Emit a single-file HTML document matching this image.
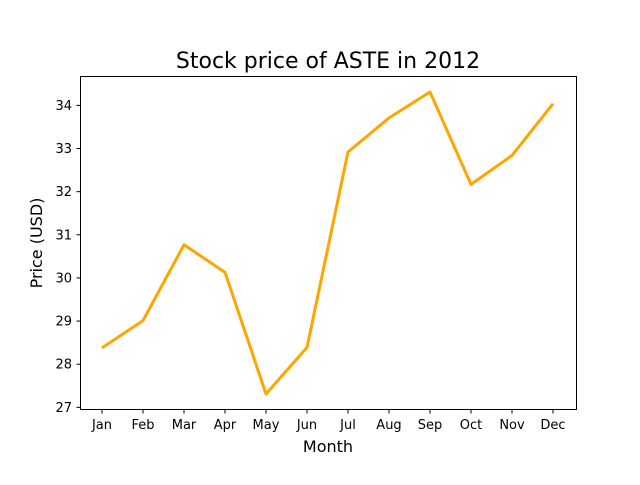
<!DOCTYPE html>
<html><head><meta charset="utf-8"><style>
body{margin:0;background:#fff;}
svg text{font-family:"DejaVu Sans","Liberation Sans",sans-serif;fill:#000;}
</style></head><body>
<svg id="chart" width="640" height="480" xmlns="http://www.w3.org/2000/svg">
<rect width="640" height="480" fill="#fff"/>
<text x="328" y="68" font-size="22" text-anchor="middle">Stock price of ASTE in 2012</text>
<g id="xt"></g><g id="yt"></g>
<polyline id="line" fill="none" stroke="#ffa500" stroke-width="3" stroke-linejoin="round"/>
<rect x="80.5" y="76.5" width="496" height="333" fill="none" stroke="#000" stroke-width="1"/>
<text x="328" y="452" font-size="16" text-anchor="middle">Month</text>
<text x="42" y="243" font-size="16" text-anchor="middle" transform="rotate(-90 42 243)">Price (USD)</text>
</svg>
<script>
const months=["Jan","Feb","Mar","Apr","May","Jun","Jul","Aug","Sep","Oct","Nov","Dec"];
const prices=[28.38,29.01,30.77,30.13,27.31,28.39,32.92,33.71,34.31,32.17,32.84,34.04];
const yTicks=[27,28,29,30,31,32,33,34];
const ns="http://www.w3.org/2000/svg";
const yMin=26.95,yMax=34.67,yTop=76.5,yBot=409.5;
function sx(i){return 102+i*(553-102)/(months.length-1);}
function sy(v){return yBot-(v-yMin)/(yMax-yMin)*(yBot-yTop);}
const xt=document.getElementById('xt'),yt=document.getElementById('yt');
months.forEach((m,i)=>{
 const l=document.createElementNS(ns,'line');
 
 
 l.setAttribute('x1',sx(i));l.setAttribute('x2',sx(i));l.setAttribute('y1',409.5);l.setAttribute('y2',413.5);l.setAttribute('stroke','#000');
 xt.appendChild(l);
 const t=document.createElementNS(ns,'text');
 
 
 t.setAttribute('x',sx(i));t.setAttribute('y',429);t.setAttribute('font-size','13');t.setAttribute('text-anchor','middle');
 t.textContent=m;xt.appendChild(t);
});
yTicks.forEach(v=>{
 const l=document.createElementNS(ns,'line');
 
 
 l.setAttribute('x1',76.5);l.setAttribute('x2',80.5);l.setAttribute('y1',sy(v));l.setAttribute('y2',sy(v));l.setAttribute('stroke','#000');
 yt.appendChild(l);
 const t=document.createElementNS(ns,'text');
 
 
 t.setAttribute('x',72);t.setAttribute('y',sy(v)+4.5);t.setAttribute('font-size','13');t.setAttribute('text-anchor','end');
 t.textContent=v;yt.appendChild(t);
});
document.getElementById('line').setAttribute('points',prices.map((p,i)=>sx(i)+','+sy(p)).join(' '));
</script>
</body></html>
